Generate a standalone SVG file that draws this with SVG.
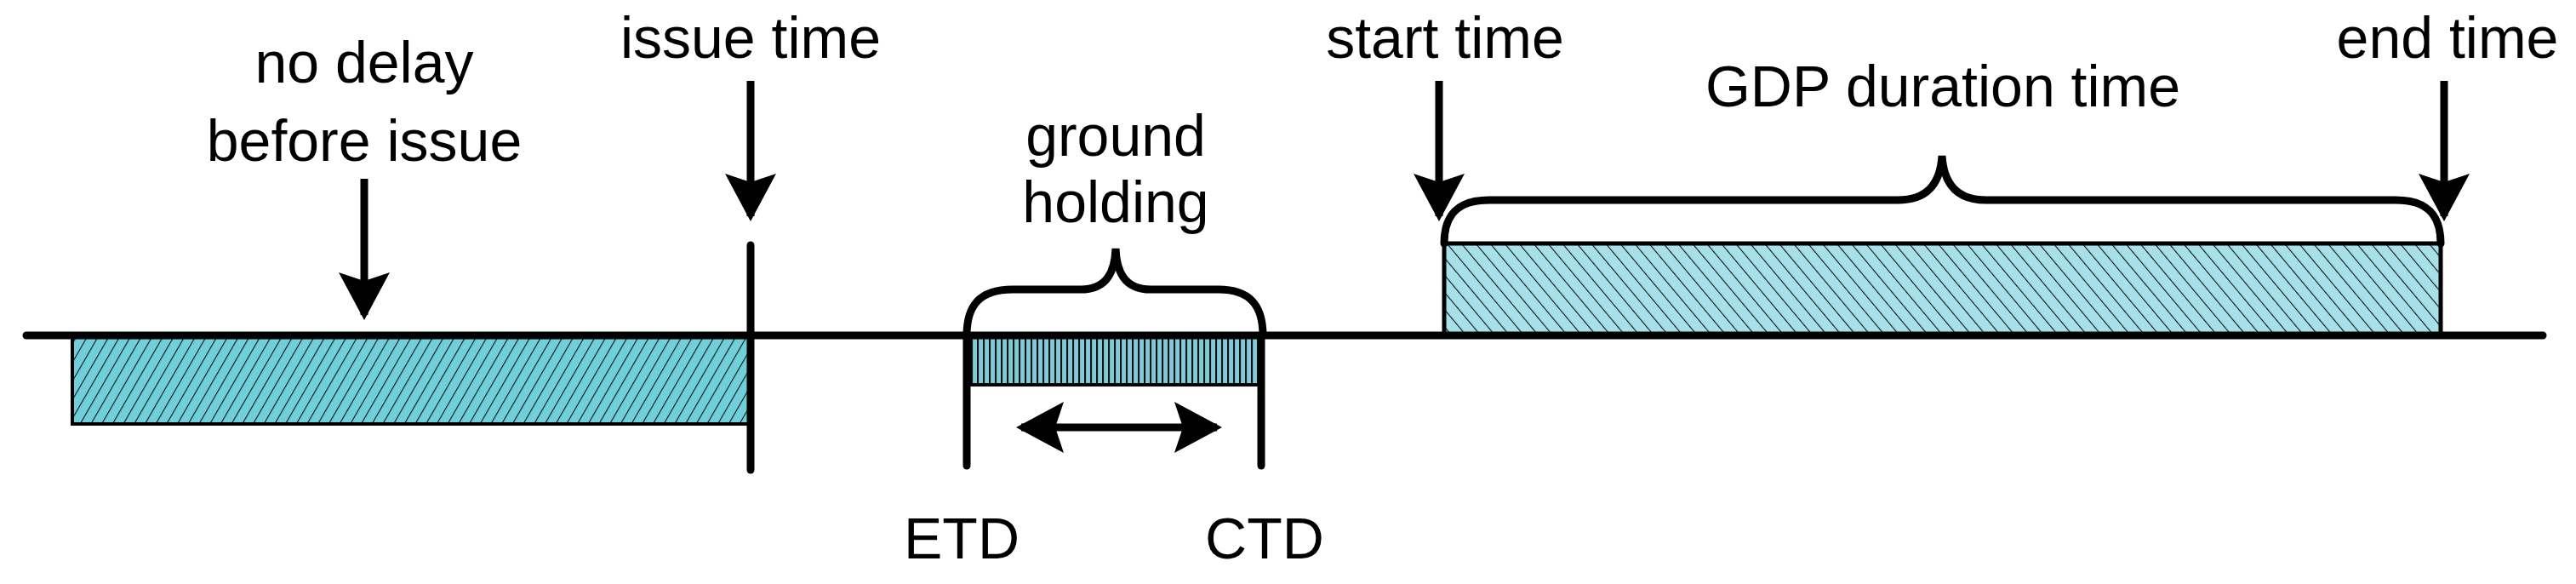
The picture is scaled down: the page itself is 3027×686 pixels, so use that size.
<svg xmlns="http://www.w3.org/2000/svg" width="3027" height="686" viewBox="0 0 3027 686">
<style>
.t{font-family:"Liberation Sans",Arial,sans-serif;font-size:68px;fill:#000;text-anchor:middle}
.ln{stroke:#000;stroke-width:9;fill:none;stroke-linecap:round}
.ar{stroke:#000;stroke-width:9;fill:none;marker-end:url(#ah)}
</style>
<defs>
<marker id="ah" markerUnits="userSpaceOnUse" markerWidth="60" markerHeight="70" refX="50" refY="30" orient="auto-start-reverse" viewBox="0 0 60 60">
<path d="M0,0 L56,30 L0,60 L10,30 Z" fill="#000"/>
</marker>
<pattern id="hf" patternUnits="userSpaceOnUse" width="11" height="11" patternTransform="rotate(30)">
<rect width="11" height="11" fill="#6FCFDB"/><line x1="0" y1="0" x2="0" y2="11" stroke="#111" stroke-width="2.2"/>
</pattern>
<pattern id="hb" patternUnits="userSpaceOnUse" width="13" height="13" patternTransform="rotate(-40)">
<rect width="13" height="13" fill="#A6E0E8"/><line x1="0" y1="0" x2="0" y2="13" stroke="#111" stroke-width="2.2"/>
</pattern>
<pattern id="hv" patternUnits="userSpaceOnUse" width="7" height="7">
<rect width="7" height="7" fill="#7FC9D9"/><line x1="1" y1="0" x2="1" y2="7" stroke="#111" stroke-width="2.2"/>
</pattern>
</defs>
<g id="blocks">
<rect id="nodelay" x="85" y="394" width="797" height="104" fill="url(#hf)" stroke="#000" stroke-width="4"/>
<rect id="holding" x="1140" y="394" width="342" height="58" fill="url(#hv)" stroke="#000" stroke-width="4"/>
<rect id="gdp" x="1697" y="286" width="1171" height="108" fill="url(#hb)" stroke="#000" stroke-width="5"/>
</g>
<g id="connectors">
<line class="ln" x1="31" y1="394" x2="2988" y2="394"/>
<line class="ln" x1="882" y1="288" x2="882" y2="552"/>
<line class="ln" x1="1136" y1="394" x2="1136" y2="547"/>
<line class="ln" x1="1482" y1="394" x2="1482" y2="547"/>
<line class="ar" x1="428" y1="210" x2="428" y2="370"/>
<line class="ar" x1="882" y1="95" x2="882" y2="254"/>
<line class="ar" x1="1691" y1="95" x2="1691" y2="254"/>
<line class="ar" x1="2872" y1="95" x2="2872" y2="254"/>
<line class="ar" x1="1200" y1="502" x2="1430" y2="502" marker-start="url(#ah)"/>
<path class="ln" d="M1136,394 C1136,360 1150,340 1190,340 L1270,340 C1300,340 1310,320 1311,292 C1312,320 1322,340 1352,340 L1432,340 C1470,340 1484,360 1484,394"/>
<path class="ln" d="M1697,286 C1697,255 1710,235 1750,235 L2230,235 C2265,235 2280,215 2282,183 C2284,215 2299,235 2334,235 L2815,235 C2855,235 2868,255 2868,286"/>
</g>
<g id="labels">
<text class="t" x="428" y="97">no delay</text>
<text class="t" x="428" y="189">before issue</text>
<text class="t" x="882" y="68">issue time</text>
<text class="t" x="1311" y="183">ground</text>
<text class="t" x="1311" y="261">holding</text>
<text class="t" x="1130" y="656">ETD</text>
<text class="t" x="1486" y="656">CTD</text>
<text class="t" x="1698" y="68">start time</text>
<text class="t" x="2283" y="125">GDP duration time</text>
<text class="t" x="2876" y="68">end time</text>
</g>
</svg>
